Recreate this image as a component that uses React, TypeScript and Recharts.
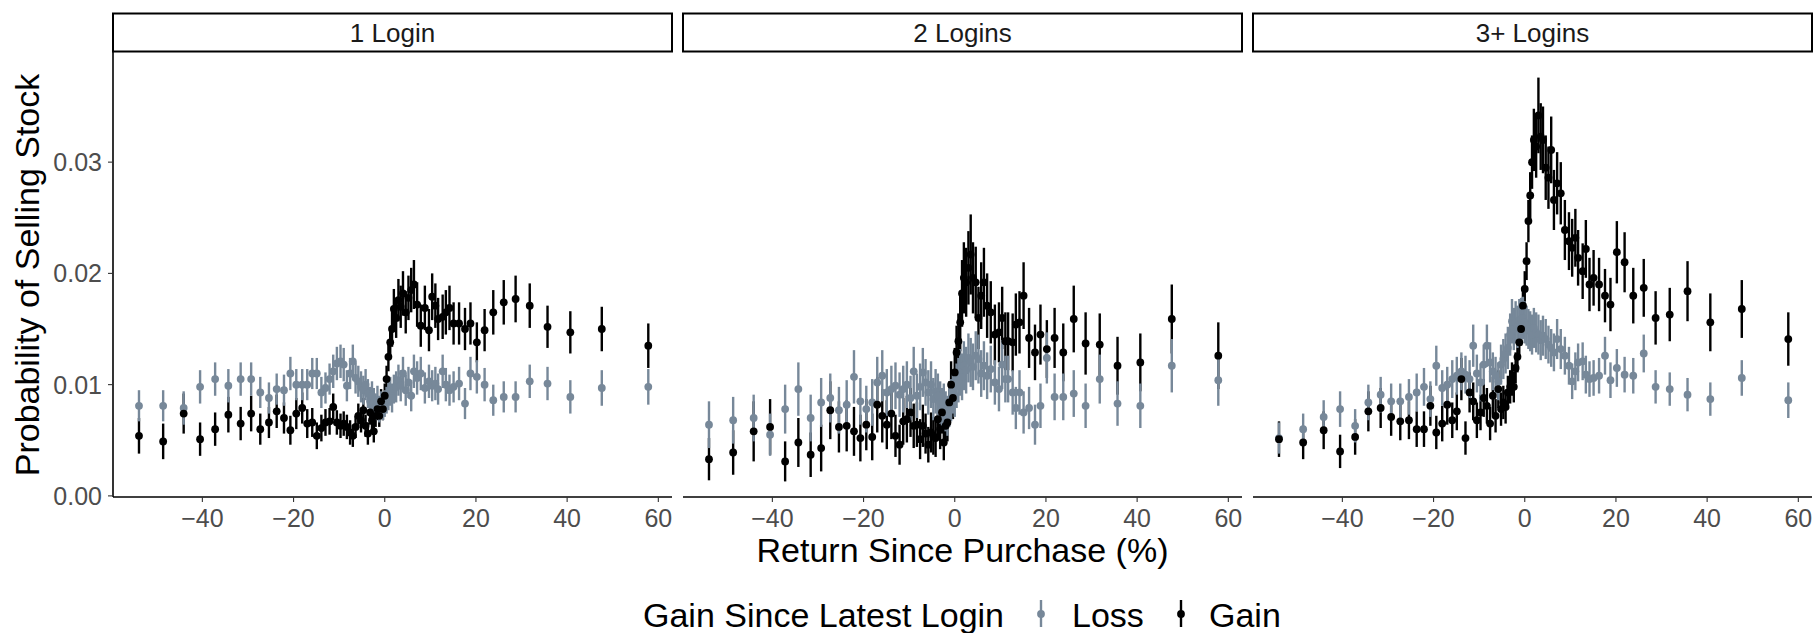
import React from 'react';
import { ScatterChart, Scatter, XAxis, YAxis, ErrorBar } from 'recharts';

// return-since-purchase bins (%), shared by every panel
const returnBins = [
  -53.9, -48.6, -44.1, -40.5, -37.2, -34.3, -31.6, -29.3, -27.3, -25.4, -23.7, -22.1, -20.7, -19.4, -18.1, -17.0, -15.9, -14.9,
  -13.9, -13.0, -12.1, -11.3, -10.5, -9.7, -9.0, -8.3, -7.6, -7.0, -6.4, -5.8, -5.2, -4.7, -4.2, -3.7, -3.2, -2.8, -2.4, -2.0,
  -1.6, -1.2, -0.8, -0.4, 0.0, 0.4, 0.8, 1.2, 1.6, 2.0, 2.5, 3.0, 3.5, 4.0, 4.6, 5.2, 5.8, 6.4, 7.1,
  7.9, 8.8, 9.7, 10.4, 11.1, 11.7, 12.7, 13.4, 14.2, 15.1, 16.3, 17.6, 18.8, 20.2, 21.9, 23.8, 26.1, 28.7, 31.8, 35.7, 40.7, 47.6, 57.8,
];

const panelTitles = ['1 Login', '2 Logins', '3+ Logins'];
const xTicks = [-40, -20, 0, 20, 40, 60];
const yTicks = [0, 0.01, 0.02, 0.03];

// 1 Login
const gain1 = [
  .0054, .0049, .0074, .0051, .0060, .0073, .0065, .0074, .0060, .0066, .0076, .0070, .0059, .0074, .0079, .0065, .0066, .0054,
  .0061, .0066, .0067, .0080, .0066, .0063, .0065, .0062, .0057, .0054, .0062, .0072, .0068, .0077, .0063, .0056, .0075, .0068, .0058, .0072,
  .0078, .0072, .0085, .0078, .0090, .0105, .0125, .0138, .0150, .0168, .0160, .0176, .0170, .0182, .0165, .0178, .0185, .0190, .0172,
  .0153, .0169, .0149, .0179, .0171, .0159, .0161, .0165, .0169, .0155, .0155, .0150, .0155, .0138, .0149, .0165, .0174, .0177, .0171, .0152, .0147, .0150, .0135,
];
const gainErr1 = [
  .0016, .0016, .0018, .0015, .0015, .0016, .0015, .0016, .0014, .0014, .0015, .0014, .0013, .0014, .0014, .0013, .0013, .0012,
  .0012, .0012, .0012, .0012, .0011, .0011, .0011, .0011, .0011, .0010, .0010, .0011, .0011, .0011, .0010, .0010, .0011, .0010, .0010, .0010,
  .0010, .0010, .0011, .0010, .0011, .0012, .0013, .0014, .0016, .0018, .0018, .0019, .0019, .0020, .0019, .0020, .0020, .0022, .0020,
  .0019, .0020, .0019, .0021, .0020, .0019, .0020, .0020, .0020, .0019, .0019, .0019, .0019, .0018, .0019, .0020, .0020, .0021, .0020, .0019, .0019, .0020, .0020,
];
const loss1 = [
  .0081, .0081, .0079, .0098, .0105, .0099, .0105, .0105, .0093, .0088, .0096, .0095, .0110, .0100, .0100, .0100, .0110, .0110,
  .0093, .0097, .0105, .0112, .0119, .0121, .0118, .0099, .0110, .0121, .0106, .0103, .0098, .0095, .0100, .0092, .0085, .0090, .0084, .0080,
  .0086, .0078, .0082, .0080, .0083, .0086, .0090, .0094, .0088, .0096, .0098, .0104, .0099, .0110, .0095, .0102, .0090, .0112, .0106,
  .0110, .0097, .0103, .0099, .0101, .0096, .0112, .0100, .0095, .0098, .0101, .0083, .0110, .0107, .0100, .0086, .0089, .0089, .0103, .0101, .0089, .0097, .0098,
];
const lossErr1 = [
  .0014, .0014, .0015, .0015, .0015, .0015, .0015, .0015, .0014, .0014, .0014, .0014, .0015, .0014, .0014, .0014, .0014, .0014,
  .0014, .0014, .0014, .0015, .0015, .0015, .0015, .0014, .0014, .0015, .0014, .0014, .0014, .0013, .0014, .0013, .0013, .0013, .0013, .0012,
  .0013, .0012, .0012, .0012, .0012, .0012, .0013, .0013, .0013, .0013, .0014, .0014, .0014, .0015, .0014, .0014, .0014, .0015, .0015,
  .0015, .0014, .0015, .0014, .0015, .0014, .0015, .0015, .0014, .0014, .0015, .0014, .0015, .0015, .0015, .0014, .0014, .0014, .0015, .0015, .0015, .0016, .0016,
];

// 2 Logins
const gain2 = [
  .0033, .0039, .0058, .0062, .0031, .0048, .0037, .0043, .0077, .0062, .0063, .0058, .0052, .0064, .0053, .0082, .0072, .0064,
  .0074, .0054, .0046, .0067, .0069, .0075, .0063, .0064, .0051, .0063, .0056, .0046, .0057, .0054, .0052, .0069, .0060, .0075, .0048, .0063,
  .0066, .0084, .0100, .0088, .0111, .0129, .0139, .0156, .0182, .0196, .0192, .0205, .0217, .0196, .0192, .0160, .0180, .0192, .0171,
  .0165, .0145, .0147, .0160, .0139, .0139, .0138, .0154, .0156, .0180, .0142, .0129, .0145, .0132, .0142, .0129, .0159, .0137, .0136, .0117, .0120, .0159, .0126,
];
const gainErr2 = [
  .0019, .0020, .0027, .0025, .0018, .0022, .0020, .0021, .0026, .0023, .0023, .0022, .0021, .0023, .0021, .0025, .0024, .0022,
  .0023, .0019, .0018, .0021, .0021, .0022, .0020, .0020, .0018, .0019, .0018, .0016, .0018, .0017, .0017, .0019, .0018, .0019, .0016, .0017,
  .0017, .0019, .0021, .0019, .0022, .0024, .0025, .0026, .0030, .0032, .0031, .0033, .0036, .0032, .0032, .0028, .0030, .0031, .0029,
  .0028, .0027, .0027, .0028, .0026, .0026, .0026, .0028, .0028, .0030, .0027, .0025, .0027, .0026, .0027, .0026, .0030, .0028, .0028, .0026, .0026, .0031, .0030,
];
const loss2 = [
  .0064, .0068, .0070, .0055, .0078, .0096, .0070, .0084, .0088, .0077, .0082, .0107, .0085, .0078, .0084, .0102, .0108, .0093,
  .0096, .0099, .0091, .0096, .0100, .0088, .0112, .0090, .0098, .0111, .0102, .0093, .0100, .0087, .0094, .0090, .0084, .0079, .0082, .0076,
  .0072, .0080, .0086, .0093, .0090, .0099, .0104, .0111, .0107, .0117, .0113, .0124, .0120, .0116, .0126, .0123, .0110, .0117, .0108,
  .0114, .0102, .0096, .0118, .0105, .0105, .0093, .0079, .0093, .0075, .0079, .0064, .0081, .0124, .0089, .0089, .0092, .0081, .0105, .0083, .0081, .0117, .0104,
];
const lossErr2 = [
  .0021, .0021, .0021, .0019, .0022, .0024, .0021, .0022, .0022, .0021, .0022, .0024, .0021, .0021, .0021, .0023, .0023, .0021,
  .0021, .0021, .0020, .0021, .0021, .0020, .0022, .0020, .0021, .0022, .0021, .0020, .0021, .0019, .0020, .0020, .0019, .0018, .0019, .0018,
  .0018, .0018, .0019, .0019, .0019, .0020, .0020, .0021, .0021, .0022, .0021, .0022, .0022, .0021, .0022, .0022, .0021, .0022, .0021,
  .0021, .0020, .0020, .0022, .0021, .0021, .0020, .0019, .0020, .0019, .0019, .0018, .0020, .0023, .0021, .0021, .0021, .0020, .0022, .0020, .0020, .0024, .0023,
];

// 3+ Logins
const gain3 = [
  .0051, .0048, .0059, .0040, .0053, .0076, .0079, .0071, .0067, .0068, .0060, .0060, .0081, .0057, .0065, .0082, .0068, .0076,
  .0105, .0052, .0093, .0085, .0068, .0075, .0088, .0081, .0065, .0090, .0072, .0096, .0078, .0084, .0080, .0093, .0098, .0105, .0098, .0115,
  .0125, .0138, .0150, .0171, .0186, .0211, .0247, .0270, .0300, .0320, .0314, .0342, .0323, .0320, .0295, .0286, .0311, .0266, .0281,
  .0272, .0239, .0229, .0223, .0232, .0214, .0202, .0222, .0190, .0196, .0190, .0180, .0172, .0219, .0210, .0180, .0187, .0160, .0163, .0184, .0156, .0168, .0141,
];
const gainErr3 = [
  .0016, .0015, .0017, .0015, .0016, .0018, .0018, .0017, .0017, .0017, .0016, .0016, .0018, .0015, .0016, .0018, .0016, .0017,
  .0019, .0015, .0018, .0017, .0016, .0016, .0017, .0016, .0015, .0017, .0015, .0017, .0015, .0015, .0015, .0015, .0015, .0015, .0014, .0014,
  .0014, .0014, .0015, .0015, .0016, .0017, .0019, .0021, .0024, .0028, .0028, .0034, .0030, .0030, .0029, .0028, .0030, .0027, .0028,
  .0028, .0027, .0026, .0026, .0026, .0025, .0025, .0026, .0024, .0025, .0024, .0024, .0024, .0028, .0027, .0025, .0026, .0024, .0024, .0027, .0026, .0026, .0024,
];
const loss3 = [
  .0052, .0060, .0071, .0078, .0063, .0084, .0091, .0085, .0085, .0089, .0093, .0098, .0087, .0117, .0097, .0100, .0105, .0108,
  .0112, .0109, .0105, .0135, .0110, .0102, .0118, .0135, .0120, .0112, .0108, .0103, .0118, .0123, .0128, .0133, .0145, .0157, .0150, .0156,
  .0152, .0158, .0159, .0160, .0156, .0153, .0150, .0148, .0145, .0151, .0147, .0145, .0140, .0144, .0141, .0136, .0133, .0129, .0141,
  .0132, .0126, .0117, .0103, .0112, .0120, .0121, .0109, .0105, .0106, .0108, .0126, .0104, .0115, .0109, .0108, .0128, .0098, .0096, .0091, .0087, .0106, .0086,
];
const lossErr3 = [
  .0014, .0014, .0015, .0016, .0015, .0016, .0016, .0016, .0016, .0016, .0017, .0017, .0016, .0018, .0016, .0016, .0017, .0017,
  .0017, .0017, .0017, .0019, .0017, .0017, .0018, .0019, .0018, .0017, .0017, .0017, .0018, .0018, .0018, .0019, .0019, .0020, .0019, .0019,
  .0019, .0019, .0019, .0019, .0019, .0018, .0018, .0018, .0018, .0018, .0018, .0018, .0018, .0018, .0018, .0017, .0017, .0017, .0018,
  .0018, .0017, .0017, .0016, .0017, .0017, .0017, .0017, .0016, .0016, .0016, .0017, .0016, .0017, .0016, .0016, .0017, .0015, .0015, .0015, .0015, .0016, .0016,
];

const LOSS = '#778899';
const GAIN = '#000000';
const FONT = '"Liberation Sans", Arial, Helvetica, sans-serif';
const DOT_R = 3.9;
const BAR_W = 2.4;

const toPoints = (ys: number[], errs: number[]) =>
  returnBins.map((x, i) => ({ x, y: ys[i], err: errs[i] }));

const dot = (color: string) => (props: any) => (
  <circle cx={props.cx} cy={props.cy} r={DOT_R} fill={color} />
);
const noDot = () => <g />;

const fmtX = (v: number) => (v < 0 ? `\u2212${Math.abs(v)}` : `${v}`);

const PLOT_W = 559;
const PLOT_LEFTS = [113, 683, 1253];

function Panel({ idx, loss, lossErr, gain, gainErr }: any) {
  const lossData = toPoints(loss, lossErr);
  const gainData = toPoints(gain, gainErr);
  const first = idx === 0;
  const mLeft = first ? 0 : 10;
  const mRight = idx === 2 ? 2 : 12;
  const yw = first ? 113 : 0;
  const width = mLeft + yw + PLOT_W + mRight;
  const left = PLOT_LEFTS[idx] - yw - mLeft;

  return (
    <div style={{ position: 'absolute', left, top: 0 }}>
      <ScatterChart width={width} height={560} margin={{ top: 52, right: mRight, bottom: 0, left: mLeft }}>
        <XAxis
          type="number"
          dataKey="x"
          domain={[-59.6, 63]}
          ticks={xTicks}
          interval={0}
          allowDataOverflow
          height={63}
          tickSize={5}
          tickMargin={7}
          tickFormatter={fmtX}
          tick={{ fill: '#4d4d4d', fontSize: 25 }}
          axisLine={{ stroke: '#000', strokeWidth: 1.6 }}
          tickLine={{ stroke: '#333', strokeWidth: 1.1 }}
        />
        <YAxis
          type="number"
          dataKey="y"
          domain={[-0.0001, 0.0399]}
          ticks={yTicks}
          interval={0}
          allowDataOverflow
          hide={!first}
          width={yw}
          tickSize={5}
          tickMargin={6}
          tickFormatter={(v: number) => v.toFixed(2)}
          tick={{ fill: '#4d4d4d', fontSize: 25 }}
          axisLine={{ stroke: '#000', strokeWidth: 1.6 }}
          tickLine={{ stroke: '#333', strokeWidth: 1.1 }}
        />
        {/* bars first, then points, like geom_pointrange */}
        <Scatter data={gainData} dataKey="y" shape={noDot} isAnimationActive={false}>
          <ErrorBar dataKey="err" direction="y" width={0} stroke={GAIN} strokeWidth={BAR_W} isAnimationActive={false} />
        </Scatter>
        <Scatter data={lossData} dataKey="y" shape={noDot} isAnimationActive={false}>
          <ErrorBar dataKey="err" direction="y" width={0} stroke={LOSS} strokeWidth={BAR_W} isAnimationActive={false} />
        </Scatter>
        <Scatter data={lossData} dataKey="y" shape={dot(LOSS)} isAnimationActive={false} />
        <Scatter data={gainData} dataKey="y" shape={dot(GAIN)} isAnimationActive={false} />
      </ScatterChart>
    </div>
  );
}

export default function App() {
  const series = [
    { loss: loss1, lossErr: lossErr1, gain: gain1, gainErr: gainErr1 },
    { loss: loss2, lossErr: lossErr2, gain: gain2, gainErr: gainErr2 },
    { loss: loss3, lossErr: lossErr3, gain: gain3, gainErr: gainErr3 },
  ];

  return (
    <div style={{ position: 'absolute', left: 0, top: 0, width: 1814, height: 633, background: '#fff', fontFamily: FONT }}>
      {series.map((s, i) => (
        <Panel key={i} idx={i} {...s} />
      ))}
      <svg width={1814} height={633} style={{ position: 'absolute', left: 0, top: 0, pointerEvents: 'none' }} fontFamily={FONT}>
        {panelTitles.map((t, i) => (
          <g key={t}>
            <rect x={PLOT_LEFTS[i]} y={13.5} width={PLOT_W} height={38} fill="#fff" stroke="#000" strokeWidth={2} />
            <text x={PLOT_LEFTS[i] + PLOT_W / 2} y={42} textAnchor="middle" fontSize={26} fill="#1a1a1a">{t}</text>
          </g>
        ))}
        <text transform="translate(39,275) rotate(-90)" textAnchor="middle" fontSize={34} fill="#000">
          Probability of Selling Stock
        </text>
        <text x={962.5} y={562} textAnchor="middle" fontSize={34} fill="#000">Return Since Purchase (%)</text>

        {/* legend */}
        <text x={643} y={626.5} fontSize={34} fill="#000">Gain Since Latest Login</text>
        <line x1={1041} x2={1041} y1={600} y2={627} stroke={LOSS} strokeWidth={BAR_W} />
        <circle cx={1041} cy={614} r={DOT_R} fill={LOSS} />
        <text x={1072} y={626.5} fontSize={34} fill="#000">Loss</text>
        <line x1={1181} x2={1181} y1={600} y2={627} stroke={GAIN} strokeWidth={BAR_W} />
        <circle cx={1181} cy={614} r={DOT_R} fill={GAIN} />
        <text x={1209} y={626.5} fontSize={34} fill="#000">Gain</text>
      </svg>
    </div>
  );
}
